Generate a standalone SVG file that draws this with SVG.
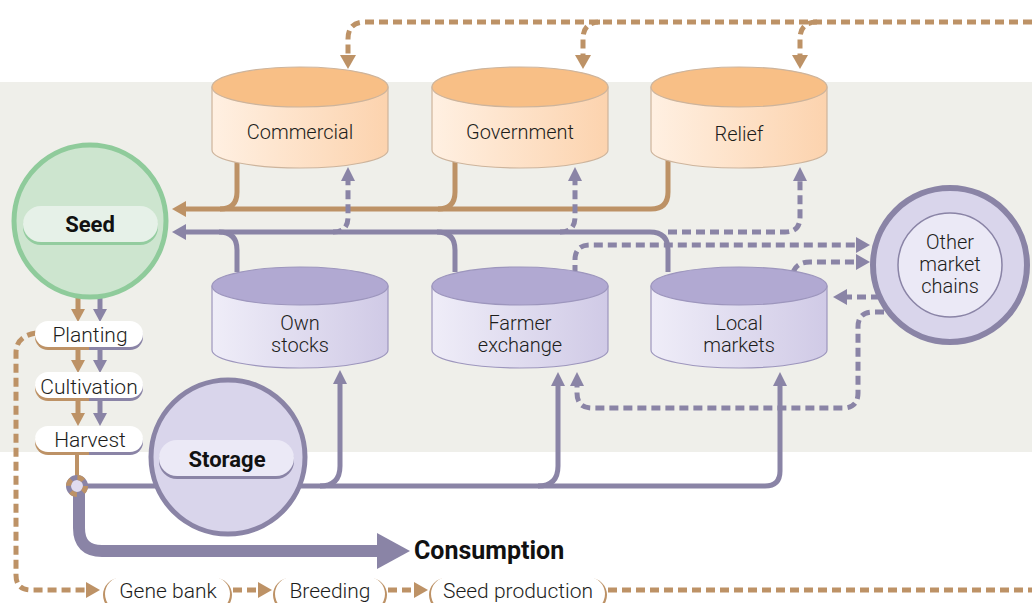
<svg xmlns="http://www.w3.org/2000/svg" width="1032" height="603" viewBox="0 0 1032 603">
<defs>
<linearGradient id="gOr" x1="0" y1="0" x2="1" y2="0"><stop offset="0" stop-color="#fff0e2"/><stop offset="1" stop-color="#fcd3ae"/></linearGradient>
<linearGradient id="gPu" x1="0" y1="0" x2="1" y2="0"><stop offset="0" stop-color="#efedf8"/><stop offset="1" stop-color="#d0cae6"/></linearGradient>
<linearGradient id="gSplit" x1="0" y1="0" x2="1" y2="0"><stop offset="0.5" stop-color="#bd9266"/><stop offset="0.5" stop-color="#8a84a6"/></linearGradient>
</defs>
<style>
.or{fill:none;stroke:#bd9266;stroke-width:5}
.pu{fill:none;stroke:#8a84a6;stroke-width:5}
.ord{fill:none;stroke:#bd9266;stroke-width:5;stroke-dasharray:9 5}
.pud{fill:none;stroke:#8a84a6;stroke-width:5;stroke-dasharray:9 5}
.ah-o{fill:#bd9266}
.ah-p{fill:#8a84a6}
.cylO{fill:url(#gOr);stroke:#cdb49c;stroke-width:1.2}
.cylOt{fill:#f8bf86;stroke:#cdb49c;stroke-width:1.2}
.cylP{fill:url(#gPu);stroke:#9d96bd;stroke-width:1.2}
.cylPt{fill:#b1a9d2;stroke:#9d96bd;stroke-width:1.2}
.lbl{font-family:Roboto,"Liberation Sans",sans-serif;font-weight:300;font-size:20px;fill:#1d1d1b;text-anchor:middle}
.pl{font-family:Roboto,"Liberation Sans",sans-serif;font-weight:300;font-size:21px;fill:#1d1d1b;text-anchor:middle}
.bold{font-family:Roboto,"Liberation Sans",sans-serif;font-weight:700;font-size:22px;fill:#111;text-anchor:middle}
.bp-sh{fill:#bd9266}
.bp{fill:#ffffff}
</style>
<rect x="0" y="82" width="1032" height="370" fill="#efefea"/>

<g id="connectors">
<path class="ord" d="M1032 22 H365 Q348 22 348 39 V55"/>
<path class="ord" d="M600 22 Q583 22 583 39 V55"/>
<path class="ord" d="M817 22 Q800 22 800 39 V55"/>
<polygon class="ah-o" points="340,55 348,69 356,55"/>
<polygon class="ah-o" points="575,55 583,69 591,55"/>
<polygon class="ah-o" points="792,55 800,69 808,55"/>
<path class="or" d="M184 209 H651 Q668 209 668 192 V160"/>
<path class="or" d="M220 209 Q237 209 237 192 V160"/>
<path class="or" d="M438 209 Q455 209 455 192 V160"/>
<polygon class="ah-o" points="172,209 186,201 186,217"/>
<path class="pu" d="M184 232 H650 Q668 232 668 250 V272"/>
<path class="pu" d="M219 232 Q237 232 237 250 V272"/>
<path class="pu" d="M437 232 Q455 232 455 250 V272"/>
<polygon class="ah-p" points="172,232 186,224 186,240"/>
<path class="pud" d="M333 232 Q348 232 348 217 V180"/>
<path class="pud" d="M560 232 Q575 232 575 217 V180"/>
<path class="pud" d="M668 232 H785 Q800 232 800 217 V180"/>
<polygon class="ah-p" points="341,181 348,167 355,181"/>
<polygon class="ah-p" points="568,181 575,167 582,181"/>
<polygon class="ah-p" points="793,181 800,167 807,181"/>
<path class="pud" d="M575 274 V260 Q575 245 590 245 H857"/>
<polygon class="ah-p" points="856,237 870,245 856,253"/>
<path class="pud" d="M793 272 Q797 262 810 262 H857"/>
<polygon class="ah-p" points="856,254 870,262 856,270"/>
<path class="pud" d="M880 297 H846"/>
<polygon class="ah-p" points="847,289 833,297 847,305"/>
<path class="pud" d="M884 312 H873 Q858 312 858 327 V393 Q858 408 843 408 H592 Q577 408 577 393 V385"/>
<polygon class="ah-p" points="570,386 577,372 584,386"/>
<path class="pu" d="M86 486 H765 Q780 486 780 471 V384"/>
<path class="pu" d="M320 486 Q340 486 340 466 V383"/>
<path class="pu" d="M538 486 Q558 486 558 466 V385"/>
<polygon class="ah-p" points="333,384 340,370 347,384"/>
<polygon class="ah-p" points="551,386 558,372 565,386"/>
<polygon class="ah-p" points="773,386 780,372 787,386"/>
<path fill="none" stroke="#8a84a6" stroke-width="12" d="M79 492 V528 Q79 551 102 551 H382"/>
<polygon class="ah-p" points="377,533 410,551 377,569"/>
<path class="or" d="M78 296 V310"/>
<polygon class="ah-o" points="71,309 78,322 85,309"/>
<path class="pu" d="M100 296 V310"/>
<polygon class="ah-p" points="93,309 100,322 107,309"/>
<path class="or" d="M78 349 V361"/>
<polygon class="ah-o" points="71,360 78,373 85,360"/>
<path class="pu" d="M100 349 V361"/>
<polygon class="ah-p" points="93,360 100,373 107,360"/>
<path class="or" d="M78 401 V414"/>
<polygon class="ah-o" points="71,413 78,426 85,413"/>
<path class="pu" d="M100 401 V414"/>
<polygon class="ah-p" points="93,413 100,426 107,413"/>
<path fill="none" stroke="#bd9266" stroke-width="4" d="M77 453 V478"/>
<path class="ord" d="M36 333 Q16 336 16 353 V575 Q16 590 31 590 H87"/>
<polygon class="ah-o" points="86,582 100,590 86,598"/>
<path class="ord" d="M233 590 H259"/>
<polygon class="ah-o" points="258,582 272,590 258,598"/>
<path class="ord" d="M388 590 H415"/>
<polygon class="ah-o" points="414,582 428,590 414,598"/>
<path class="ord" d="M608 590 H1032"/>
</g>

<g id="node-commercial">
<path class="cylO" d="M212 87 V150 A88 18 0 0 0 388 150 V87 Z"/>
<ellipse class="cylOt" cx="300" cy="87" rx="88" ry="20"/>
<text class="lbl" x="300" y="139">Commercial</text>
</g>
<g id="node-government">
<path class="cylO" d="M432 87 V150 A88 18 0 0 0 608 150 V87 Z"/>
<ellipse class="cylOt" cx="520" cy="87" rx="88" ry="20"/>
<text class="lbl" x="520" y="139">Government</text>
</g>
<g id="node-relief">
<path class="cylO" d="M651 87 V150 A88 18 0 0 0 827 150 V87 Z"/>
<ellipse class="cylOt" cx="739" cy="87" rx="88" ry="20"/>
<text class="lbl" x="739" y="141">Relief</text>
</g>
<g id="node-own-stocks">
<path class="cylP" d="M212 286 V350 A88 18 0 0 0 388 350 V286 Z"/>
<ellipse class="cylPt" cx="300" cy="286" rx="88" ry="19"/>
<text class="lbl" x="300" y="330">Own</text>
<text class="lbl" x="300" y="352">stocks</text>
</g>
<g id="node-farmer-exchange">
<path class="cylP" d="M432 286 V350 A88 18 0 0 0 608 350 V286 Z"/>
<ellipse class="cylPt" cx="520" cy="286" rx="88" ry="19"/>
<text class="lbl" x="520" y="330">Farmer</text>
<text class="lbl" x="520" y="352">exchange</text>
</g>
<g id="node-local-markets">
<path class="cylP" d="M651 286 V350 A88 18 0 0 0 827 350 V286 Z"/>
<ellipse class="cylPt" cx="739" cy="286" rx="88" ry="19"/>
<text class="lbl" x="739" y="330">Local</text>
<text class="lbl" x="739" y="352">markets</text>
</g>

<g id="node-seed">
<circle cx="90" cy="221" r="76" fill="#cde5cf" stroke="#8fcb9b" stroke-width="5"/>
<rect x="23" y="209" width="135" height="36" rx="18" fill="#93cc9f"/>
<rect x="23" y="206" width="135" height="36" rx="18" fill="#e6f1e8"/>
<text class="bold" x="90" y="232">Seed</text>
</g>

<g id="node-other-market-chains">
<circle cx="950" cy="265" r="77" fill="#d9d5eb" stroke="#8a84a6" stroke-width="6"/>
<circle cx="950" cy="265" r="52" fill="#ebe9f6" stroke="#8a84a6" stroke-width="1.5"/>
<text class="lbl" x="950" y="249">Other</text>
<text class="lbl" x="950" y="271">market</text>
<text class="lbl" x="950" y="293">chains</text>
</g>

<g id="node-storage">
<circle cx="228" cy="457" r="77" fill="#d9d5eb" stroke="#8a84a6" stroke-width="5"/>
<rect x="159" y="443" width="135" height="36" rx="18" fill="#8a84a6"/>
<rect x="159" y="440" width="135" height="36" rx="18" fill="#ebe9f6"/>
<text class="bold" x="227" y="467">Storage</text>
</g>

<g id="node-planting">
<rect x="35" y="324" width="108" height="26" rx="13" fill="url(#gSplit)"/>
<rect x="35" y="321" width="108" height="26" rx="13" fill="#ffffff"/>
<text class="pl" x="90" y="342">Planting</text>
</g>
<g id="node-cultivation">
<rect x="35" y="375" width="108" height="26" rx="13" fill="url(#gSplit)"/>
<rect x="35" y="372" width="108" height="26" rx="13" fill="#ffffff"/>
<text class="pl" x="89" y="394">Cultivation</text>
</g>
<g id="node-harvest">
<rect x="35" y="429" width="108" height="26" rx="13" fill="url(#gSplit)"/>
<rect x="35" y="426" width="108" height="26" rx="13" fill="#ffffff"/>
<text class="pl" x="90" y="447">Harvest</text>
</g>
<g id="node-harvest-split">
<circle cx="77" cy="486" r="8.5" fill="#e0dcef" stroke="#8a84a6" stroke-width="5"/>
<circle cx="77" cy="486" r="8.5" fill="none" stroke="#bd9266" stroke-width="5" stroke-dasharray="6.7 6.7"/>
</g>

<g id="node-consumption">
<text font-family="Roboto, 'Liberation Sans', sans-serif" font-weight="700" font-size="25" fill="#111" x="414" y="559">Consumption</text>
</g>

<g id="node-gene-bank">
<rect class="bp-sh" x="103" y="578" width="129" height="34" rx="17"/>
<rect class="bp" x="105" y="577" width="125" height="34" rx="17"/>
<text class="pl" x="168" y="598">Gene bank</text>
</g>
<g id="node-breeding">
<rect class="bp-sh" x="273" y="578" width="114" height="34" rx="17"/>
<rect class="bp" x="275" y="577" width="110" height="34" rx="17"/>
<text class="pl" x="330" y="598">Breeding</text>
</g>
<g id="node-seed-production">
<rect class="bp-sh" x="429" y="578" width="178" height="34" rx="17"/>
<rect class="bp" x="431" y="577" width="174" height="34" rx="17"/>
<text class="pl" x="518" y="598">Seed production</text>
</g>
</svg>
